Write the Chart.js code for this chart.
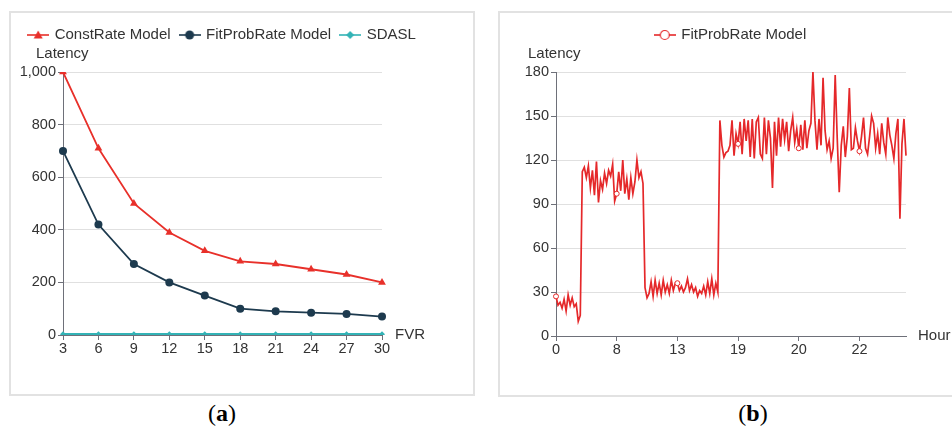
<!DOCTYPE html>
<html>
<head>
<meta charset="utf-8">
<script src="https://cdn.jsdelivr.net/npm/chart.js@4.4.1/dist/chart.umd.min.js"></script>
<style>
html,body{margin:0;padding:0;background:#fff;overflow:hidden;width:952px;height:429px;}
.panel{position:absolute;border:2px solid #e2e2e2;box-sizing:border-box;}
#pa{left:9px;top:11px;width:466px;height:385px;}
#pb{left:498px;top:11px;width:480px;height:386px;}
canvas{position:absolute;}
#ca{left:10px;top:12px;}
#cb{left:499px;top:12px;}
.cap{position:absolute;top:399px;line-height:28px;font-family:"Liberation Serif","DejaVu Serif",serif;font-size:24px;color:#000;transform:translateX(-50%);white-space:nowrap;}
</style>
</head>
<body>
<div class="panel" id="pa"></div>
<div class="panel" id="pb"></div>
<canvas id="ca" width="422" height="383"></canvas>
<canvas id="cb" width="453" height="384"></canvas>
<div class="cap" style="left:222px">(<b>a</b>)</div>
<div class="cap" style="left:753px">(<b>b</b>)</div>
<script>
// ---------- data ----------
const fvrLabels = ['3', '6', '9', '12', '15', '18', '21', '24', '27', '30'];
const constRateLatency = [1000, 710, 500, 390, 320, 280, 270, 250, 230, 200];
const fitProbRateLatency = [700, 420, 270, 200, 150, 100, 90, 85, 80, 70];
const sdaslLatency = [3, 3, 3, 3, 3, 3, 3, 3, 3, 3];

const hourTickLabels = ['0', '8', '13', '19', '20', '22'];
const hourTickStep = 30;
const hourlyLatency = [
  27, 21, 23, 19, 25, 17, 28, 21, 26, 20, 22, 10, 14,
  112, 115, 108, 116, 101, 113, 96, 119, 91, 106, 100, 111, 104, 113, 109, 117, 92,
  97, 112, 99, 120, 97, 107, 93, 108, 97, 105, 120, 108, 112, 104,
  33, 26, 29, 37, 27, 38, 29, 36, 28, 38, 30, 35, 29, 38, 31, 36,
  36, 31, 34, 30, 33, 39, 31, 35, 30, 33, 27, 31, 29, 34, 28, 37, 29, 39, 28, 36, 30,
  147, 130, 122, 125, 126,
  130, 147, 123, 138, 131, 146, 124, 148, 133, 147, 122, 148, 121, 146, 149, 124, 121, 149, 124, 147,
  135, 101, 146, 123, 149, 129, 148, 134, 146, 126, 140, 149, 132, 141, 128, 144, 127, 147, 128, 140,
  145, 180, 147, 127, 148, 130, 176, 140, 127, 133, 121, 128, 178, 135, 98, 130, 143, 122, 136, 169,
  127, 128, 142, 133, 126, 136, 149, 128, 124, 136, 150, 145, 128, 138, 124, 145, 132, 124, 149, 137,
  130, 121, 138, 148, 80, 131, 148, 123
];

// ---------- styling ----------
const FONT = '"Liberation Sans", Arial, Helvetica, sans-serif';
Chart.defaults.font.family = FONT;
Chart.defaults.color = '#333';
const AXIS = '#6e7079';
const GRID = '#e0e0e0';
const RED = '#e8302a';
const NAVY = '#1d3a4e';
const TEAL = '#33b3b6';
const RED_B = '#e5282a';

function legendIcon(color, shape) {
  const c = document.createElement('canvas');
  c.width = 22; c.height = 12;
  const g = c.getContext('2d');
  g.strokeStyle = color; g.lineWidth = 1.6;
  g.beginPath(); g.moveTo(0, 6); g.lineTo(22, 6); g.stroke();
  g.fillStyle = color;
  g.beginPath();
  if (shape === 'triangle') {
    g.moveTo(11, 1.5); g.lineTo(15.5, 9.5); g.lineTo(6.5, 9.5); g.closePath(); g.fill();
  } else if (shape === 'circle') {
    g.arc(11, 6, 4.5, 0, Math.PI * 2); g.fill();
  } else if (shape === 'diamond') {
    g.moveTo(11, 2); g.lineTo(15, 6); g.lineTo(11, 10); g.lineTo(7, 6); g.closePath(); g.fill();
  } else if (shape === 'hollow') {
    g.fillStyle = '#fff'; g.lineWidth = 1.2;
    g.arc(11, 6, 4.5, 0, Math.PI * 2); g.fill(); g.stroke();
  }
  return c;
}

const axisNames = {
  id: 'axisNames',
  afterDraw(chart, args, opts) {
    const {ctx, chartArea} = chart;
    ctx.save();
    ctx.font = '15px ' + FONT;
    ctx.fillStyle = '#333';
    ctx.textBaseline = 'middle';
    ctx.textAlign = 'left';
    ctx.fillText(opts.yName, chartArea.left + opts.yDx, chartArea.top + opts.yDy);
    ctx.fillText(opts.xName, chartArea.right + opts.xDx, chartArea.bottom);
    ctx.restore();
  }
};

function legendOpts(icons) {
  return {
    position: 'top',
    weight: 3000,
    fullSize: true,
    labels: {
      usePointStyle: true,
      pointStyleWidth: 18,
      padding: 10,
      color: '#333',
      font: {size: 15},
      generateLabels(chart) {
        const items = Chart.defaults.plugins.legend.labels.generateLabels(chart);
        items.forEach((it, i) => { it.pointStyle = icons[i]; it.lineWidth = 0; });
        return items;
      }
    }
  };
}

const spacerTitle = {display: true, text: '', padding: 0, font: {size: 19.5, lineHeight: 1}};

function xScale(ticks) {
  return {
    type: 'category',
    offset: false,
    border: {display: true, color: AXIS, width: 1},
    grid: {drawOnChartArea: false, drawTicks: true, tickLength: 5, tickColor: AXIS},
    ticks: ticks,
    afterFit(s) { s.height = 60; }
  };
}

function yScale(max, step, fmt, w) {
  return {
    type: 'linear',
    position: 'left',
    min: 0, max: max,
    border: {display: true, color: AXIS, width: 1},
    grid: {color: GRID, lineWidth: 1, drawTicks: true, tickLength: 5, tickColor: AXIS},
    ticks: {stepSize: step, padding: 2, color: '#333', font: {size: 14.5}, callback: fmt},
    afterFit(s) { s.width = w; }
  };
}

// empty right-hand band that balances the left axis so the legend centres over the plot
function balanceScale(w) {
  return {
    type: 'linear',
    position: 'right',
    display: true,
    border: {display: false},
    grid: {display: false, drawOnChartArea: false, drawTicks: false},
    ticks: {display: false},
    afterFit(s) { s.width = w; }
  };
}

// ---------- chart (a) ----------
new Chart(document.getElementById('ca'), {
  type: 'line',
  data: {
    labels: fvrLabels,
    datasets: [
      {label: 'ConstRate Model', data: constRateLatency, borderColor: RED, backgroundColor: RED,
       borderWidth: 1.8, pointStyle: 'triangle', pointRadius: 4.5, pointBorderWidth: 0, tension: 0},
      {label: 'FitProbRate Model', data: fitProbRateLatency, borderColor: NAVY, backgroundColor: NAVY,
       borderWidth: 1.8, pointStyle: 'circle', pointRadius: 4, pointBorderWidth: 0, tension: 0},
      {label: 'SDASL', data: sdaslLatency, borderColor: TEAL, backgroundColor: TEAL,
       borderWidth: 2.5, pointStyle: 'rectRot', pointRadius: 3, pointBorderWidth: 0, tension: 0}
    ]
  },
  options: {
    responsive: false,
    animation: false,
    layout: {padding: {left: 3, right: 0, top: 5.5, bottom: 0}},
    plugins: {
      legend: legendOpts([legendIcon(RED, 'triangle'), legendIcon(NAVY, 'circle'), legendIcon(TEAL, 'diamond')]),
      title: spacerTitle,
      tooltip: {enabled: false},
      axisNames: {yName: 'Latency', yDx: -27, yDy: -18, xName: 'FVR', xDx: 13}
    },
    scales: {
      x: xScale({autoSkip: false, maxRotation: 0, padding: 0, color: '#333', font: {size: 14.5}}),
      y: yScale(1000, 200, v => Number(v).toLocaleString('en-US'), 50),
      yBalance: balanceScale(50)
    }
  },
  plugins: [axisNames]
});

// ---------- chart (b) ----------
new Chart(document.getElementById('cb'), {
  type: 'line',
  data: {
    labels: hourlyLatency.map((_, i) => i),
    datasets: [
      {label: 'FitProbRate Model', data: hourlyLatency, borderColor: RED_B, backgroundColor: '#fff',
       borderWidth: 1.7, tension: 0, pointStyle: 'circle',
       pointRadius: c => (c.dataIndex % hourTickStep === 0 ? 2.5 : 0),
       pointBorderColor: RED_B, pointBackgroundColor: '#fff', pointBorderWidth: 1}
    ]
  },
  options: {
    responsive: false,
    animation: false,
    layout: {padding: {left: 11, right: 0, top: 5.5, bottom: 0}},
    plugins: {
      legend: legendOpts([legendIcon(RED_B, 'hollow')]),
      title: spacerTitle,
      tooltip: {enabled: false},
      axisNames: {yName: 'Latency', yDx: -28, yDy: -18, xName: 'Hour', xDx: 12}
    },
    scales: {
      x: xScale({autoSkip: false, maxRotation: 0, minRotation: 0, padding: 0, color: '#333', font: {size: 14.5},
        callback: (v, i) => (i % hourTickStep === 0 ? hourTickLabels[i / hourTickStep] : null)}),
      y: yScale(180, 30, v => String(v), 46),
      yBalance: balanceScale(46)
    }
  },
  plugins: [axisNames]
});
</script>
</body>
</html>
